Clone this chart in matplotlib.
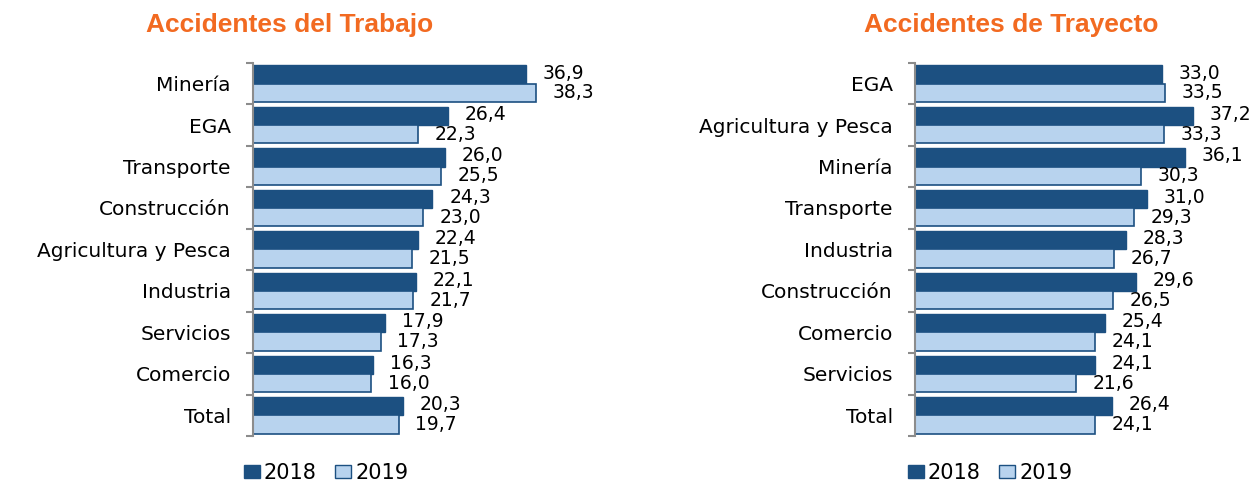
import numpy as np
import matplotlib.pyplot as plt
from matplotlib.patches import Patch

# Accidentes del Trabajo
cats_trabajo = ["Minería", "EGA", "Transporte", "Construcción", "Agricultura y Pesca",
                "Industria", "Servicios", "Comercio", "Total"]
trabajo_2018 = [36.9, 26.4, 26.0, 24.3, 22.4, 22.1, 17.9, 16.3, 20.3]
trabajo_2019 = [38.3, 22.3, 25.5, 23.0, 21.5, 21.7, 17.3, 16.0, 19.7]

# Accidentes de Trayecto
cats_trayecto = ["EGA", "Agricultura y Pesca", "Minería", "Transporte", "Industria",
                 "Construcción", "Comercio", "Servicios", "Total"]
trayecto_2018 = [33.0, 37.2, 36.1, 31.0, 28.3, 29.6, 25.4, 24.1, 26.4]
trayecto_2019 = [33.5, 33.3, 30.3, 29.3, 26.7, 26.5, 24.1, 21.6, 24.1]

years = ["2018", "2019"]

DARK = "#1C5081"
LIGHT = "#B8D3EE"
ORANGE = "#F26A21"
GRAY = "#8C8C8C"
FONT = "DejaVu Sans"


def fmt(v):
    return f"{v:.1f}".replace(".", ",")


def draw_panel(ax, cats, v18, v19, xmax):
    y = np.arange(len(cats))
    h = 0.44
    ax.barh(y - h / 2, v18, height=h, color=DARK, edgecolor=DARK, linewidth=1)
    ax.barh(y + h / 2, v19, height=h, color=LIGHT, edgecolor=DARK, linewidth=1.2)
    for yi, a, b in zip(y, v18, v19):
        ax.annotate(fmt(a), (a, yi - h / 2), xytext=(12, 1), textcoords="offset points",
                    ha="left", va="center", fontsize=13.5, family=FONT)
        ax.annotate(fmt(b), (b, yi + h / 2), xytext=(12, 0), textcoords="offset points",
                    ha="left", va="center", fontsize=13.5, family=FONT)
    ax.set_xlim(0, xmax)
    ax.set_ylim(len(cats) - 0.5, -0.5)
    ax.set_yticks(y)
    ax.set_yticklabels(cats, fontsize=14.5, family=FONT)
    ax.tick_params(axis="y", which="major", length=0, pad=16)
    ax.set_yticks(np.arange(len(cats) + 1) - 0.5, minor=True)
    ax.tick_params(axis="y", which="minor", length=5, width=1.5, color=GRAY)
    ax.set_xticks([])
    for s in ["top", "right", "bottom"]:
        ax.spines[s].set_visible(False)
    ax.spines["left"].set_color(GRAY)
    ax.spines["left"].set_linewidth(1.5)


fig = plt.figure(figsize=(12.59, 4.83), dpi=100)
ax1 = fig.add_axes([253 / 1259, 0.097, 0.264, 0.773])
ax2 = fig.add_axes([915 / 1259, 0.097, 0.267, 0.773])
draw_panel(ax1, cats_trabajo, trabajo_2018, trabajo_2019, 45)
draw_panel(ax2, cats_trayecto, trayecto_2018, trayecto_2019, 45)

fig.text(290 / 1259, 1 - 25 / 483, "Accidentes del Trabajo", ha="center", va="center",
         fontsize=19, fontweight="bold", color=ORANGE, family="Liberation Sans")
fig.text(1011 / 1259, 1 - 25 / 483, "Accidentes de Trayecto", ha="center", va="center",
         fontsize=19, fontweight="bold", color=ORANGE, family="Liberation Sans")

handles = [Patch(facecolor=DARK, edgecolor=DARK), Patch(facecolor=LIGHT, edgecolor=DARK)]
for x0 in (244, 908):
    fig.legend(handles, years, loc="center left", bbox_to_anchor=(x0 / 1259, 1 - 473 / 483),
               ncol=2, frameon=False, prop={"family": FONT, "size": 15},
               handlelength=0.75, handleheight=0.6, handletextpad=0.2, columnspacing=0.9,
               borderpad=0, borderaxespad=0)

fig.savefig("out.png", dpi=100)
